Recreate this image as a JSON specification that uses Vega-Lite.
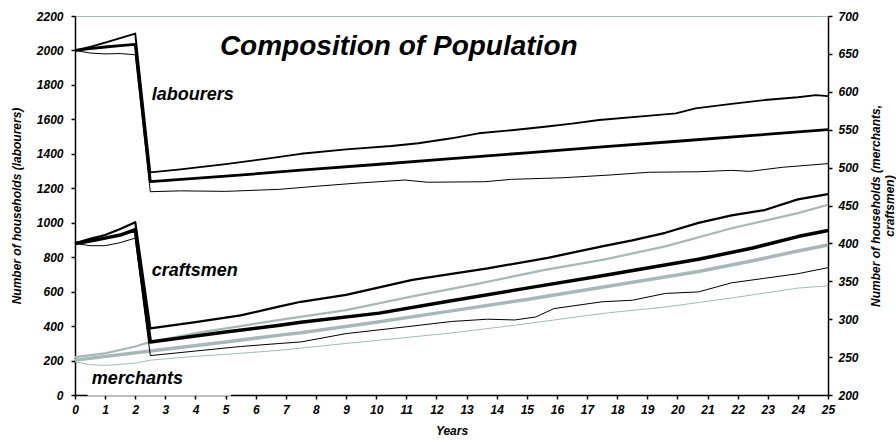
{
  "$schema": "https://vega.github.io/schema/vega-lite/v6.json",
  "width": 753,
  "height": 379,
  "autosize": {"type": "none"},
  "padding": {"left": 75, "top": 16, "right": 68, "bottom": 47},
  "background": "white",
  "config": {
    "view": {"stroke": "#a9b9b9", "strokeWidth": 1},
    "font": "Liberation Sans",
    "axis": {
      "labelFont": "Liberation Sans", "labelFontSize": 12, "labelFontWeight": "bold", "labelFontStyle": "italic", "labelColor": "black",
      "titleFont": "Liberation Sans", "titleFontSize": 12, "titleFontWeight": "bold", "titleFontStyle": "italic", "titleColor": "black",
      "domainColor": "black", "domainWidth": 1.5, "tickColor": "black", "tickWidth": 1.5, "tickSize": 4, "grid": false,
      "labelOverlap": false, "labelFlush": false, "format": "d"
    }
  },
  "datasets": {
    "lab": [
      {"s": "mean", "t": 0, "v": 2000}, {"s": "mean", "t": 0.5, "v": 2010}, {"s": "mean", "t": 1, "v": 2020}, {"s": "mean", "t": 1.5, "v": 2028}, {"s": "mean", "t": 2, "v": 2035},
      {"s": "mean", "t": 2.5, "v": 1238}, {"s": "mean", "t": 5, "v": 1270}, {"s": "mean", "t": 7.5, "v": 1305}, {"s": "mean", "t": 10, "v": 1338}, {"s": "mean", "t": 12.5, "v": 1372},
      {"s": "mean", "t": 15, "v": 1406}, {"s": "mean", "t": 17.5, "v": 1440}, {"s": "mean", "t": 20, "v": 1473}, {"s": "mean", "t": 22.5, "v": 1507}, {"s": "mean", "t": 25, "v": 1540},
      {"s": "upper", "t": 0, "v": 2000}, {"s": "upper", "t": 0.5, "v": 2020}, {"s": "upper", "t": 1, "v": 2045}, {"s": "upper", "t": 1.5, "v": 2072}, {"s": "upper", "t": 2, "v": 2098},
      {"s": "upper", "t": 2.5, "v": 1292}, {"s": "upper", "t": 3.5, "v": 1310}, {"s": "upper", "t": 5, "v": 1340}, {"s": "upper", "t": 6.5, "v": 1375}, {"s": "upper", "t": 7.5, "v": 1400},
      {"s": "upper", "t": 9, "v": 1426}, {"s": "upper", "t": 10.5, "v": 1445}, {"s": "upper", "t": 11.4, "v": 1461}, {"s": "upper", "t": 12.5, "v": 1490}, {"s": "upper", "t": 13.4, "v": 1519},
      {"s": "upper", "t": 14.5, "v": 1537}, {"s": "upper", "t": 15.6, "v": 1557}, {"s": "upper", "t": 16.5, "v": 1575}, {"s": "upper", "t": 17.4, "v": 1596}, {"s": "upper", "t": 19, "v": 1620},
      {"s": "upper", "t": 19.95, "v": 1635}, {"s": "upper", "t": 20.6, "v": 1664}, {"s": "upper", "t": 21.8, "v": 1690}, {"s": "upper", "t": 22.9, "v": 1712}, {"s": "upper", "t": 24, "v": 1728},
      {"s": "upper", "t": 24.6, "v": 1741}, {"s": "upper", "t": 25, "v": 1735},
      {"s": "lower", "t": 0, "v": 2000}, {"s": "lower", "t": 0.5, "v": 1985}, {"s": "lower", "t": 1, "v": 1980}, {"s": "lower", "t": 1.5, "v": 1982}, {"s": "lower", "t": 2, "v": 1975},
      {"s": "lower", "t": 2.5, "v": 1180}, {"s": "lower", "t": 3.5, "v": 1185}, {"s": "lower", "t": 5, "v": 1182}, {"s": "lower", "t": 6.8, "v": 1194}, {"s": "lower", "t": 8.1, "v": 1213},
      {"s": "lower", "t": 9.3, "v": 1229}, {"s": "lower", "t": 10.95, "v": 1248}, {"s": "lower", "t": 11.7, "v": 1235}, {"s": "lower", "t": 13.6, "v": 1238}, {"s": "lower", "t": 14.5, "v": 1252},
      {"s": "lower", "t": 16.2, "v": 1261}, {"s": "lower", "t": 17.76, "v": 1277}, {"s": "lower", "t": 19.05, "v": 1293}, {"s": "lower", "t": 20.7, "v": 1296}, {"s": "lower", "t": 21.8, "v": 1304},
      {"s": "lower", "t": 22.4, "v": 1298}, {"s": "lower", "t": 23.5, "v": 1322}, {"s": "lower", "t": 25, "v": 1343}
    ],
    "rm": [
      {"g": "craftsmen", "s": "mean", "t": 0, "v": 400}, {"g": "craftsmen", "s": "mean", "t": 0.5, "v": 403}, {"g": "craftsmen", "s": "mean", "t": 1, "v": 407}, {"g": "craftsmen", "s": "mean", "t": 1.5, "v": 411}, {"g": "craftsmen", "s": "mean", "t": 2, "v": 418},
      {"g": "craftsmen", "s": "mean", "t": 2.5, "v": 270}, {"g": "craftsmen", "s": "mean", "t": 5, "v": 283}, {"g": "craftsmen", "s": "mean", "t": 6.8, "v": 292}, {"g": "craftsmen", "s": "mean", "t": 7.5, "v": 296}, {"g": "craftsmen", "s": "mean", "t": 10.1, "v": 308},
      {"g": "craftsmen", "s": "mean", "t": 12.3, "v": 323}, {"g": "craftsmen", "s": "mean", "t": 15, "v": 341}, {"g": "craftsmen", "s": "mean", "t": 17.6, "v": 358}, {"g": "craftsmen", "s": "mean", "t": 20.7, "v": 379}, {"g": "craftsmen", "s": "mean", "t": 22.5, "v": 394},
      {"g": "craftsmen", "s": "mean", "t": 24, "v": 409}, {"g": "craftsmen", "s": "mean", "t": 25, "v": 417},
      {"g": "craftsmen", "s": "upper", "t": 0, "v": 400}, {"g": "craftsmen", "s": "upper", "t": 0.5, "v": 406}, {"g": "craftsmen", "s": "upper", "t": 1, "v": 411}, {"g": "craftsmen", "s": "upper", "t": 1.5, "v": 419}, {"g": "craftsmen", "s": "upper", "t": 2, "v": 428},
      {"g": "craftsmen", "s": "upper", "t": 2.5, "v": 288}, {"g": "craftsmen", "s": "upper", "t": 4, "v": 296}, {"g": "craftsmen", "s": "upper", "t": 5.5, "v": 305}, {"g": "craftsmen", "s": "upper", "t": 6.8, "v": 317}, {"g": "craftsmen", "s": "upper", "t": 7.5, "v": 323},
      {"g": "craftsmen", "s": "upper", "t": 9, "v": 332}, {"g": "craftsmen", "s": "upper", "t": 11.2, "v": 352}, {"g": "craftsmen", "s": "upper", "t": 13.7, "v": 367}, {"g": "craftsmen", "s": "upper", "t": 15.7, "v": 381}, {"g": "craftsmen", "s": "upper", "t": 17.5, "v": 396},
      {"g": "craftsmen", "s": "upper", "t": 18.5, "v": 404}, {"g": "craftsmen", "s": "upper", "t": 19.6, "v": 414}, {"g": "craftsmen", "s": "upper", "t": 20.7, "v": 427}, {"g": "craftsmen", "s": "upper", "t": 21.8, "v": 437}, {"g": "craftsmen", "s": "upper", "t": 22.9, "v": 444},
      {"g": "craftsmen", "s": "upper", "t": 24, "v": 458}, {"g": "craftsmen", "s": "upper", "t": 25, "v": 465},
      {"g": "craftsmen", "s": "lower", "t": 0, "v": 400}, {"g": "craftsmen", "s": "lower", "t": 0.5, "v": 397}, {"g": "craftsmen", "s": "lower", "t": 1, "v": 397}, {"g": "craftsmen", "s": "lower", "t": 1.5, "v": 401}, {"g": "craftsmen", "s": "lower", "t": 2, "v": 407},
      {"g": "craftsmen", "s": "lower", "t": 2.5, "v": 252}, {"g": "craftsmen", "s": "lower", "t": 4, "v": 258}, {"g": "craftsmen", "s": "lower", "t": 5.5, "v": 264}, {"g": "craftsmen", "s": "lower", "t": 6.8, "v": 268}, {"g": "craftsmen", "s": "lower", "t": 7.5, "v": 270},
      {"g": "craftsmen", "s": "lower", "t": 9, "v": 281}, {"g": "craftsmen", "s": "lower", "t": 11, "v": 290}, {"g": "craftsmen", "s": "lower", "t": 12.5, "v": 297}, {"g": "craftsmen", "s": "lower", "t": 13.7, "v": 300}, {"g": "craftsmen", "s": "lower", "t": 14.6, "v": 299},
      {"g": "craftsmen", "s": "lower", "t": 15.3, "v": 303}, {"g": "craftsmen", "s": "lower", "t": 15.9, "v": 314}, {"g": "craftsmen", "s": "lower", "t": 17.5, "v": 323}, {"g": "craftsmen", "s": "lower", "t": 18.5, "v": 325}, {"g": "craftsmen", "s": "lower", "t": 19.6, "v": 334},
      {"g": "craftsmen", "s": "lower", "t": 20.7, "v": 336}, {"g": "craftsmen", "s": "lower", "t": 21.8, "v": 348}, {"g": "craftsmen", "s": "lower", "t": 22.9, "v": 354}, {"g": "craftsmen", "s": "lower", "t": 24, "v": 360}, {"g": "craftsmen", "s": "lower", "t": 25, "v": 368},
      {"g": "merchants", "s": "mean", "t": 0, "v": 246}, {"g": "merchants", "s": "mean", "t": 2.5, "v": 258}, {"g": "merchants", "s": "mean", "t": 5, "v": 270}, {"g": "merchants", "s": "mean", "t": 6.8, "v": 279}, {"g": "merchants", "s": "mean", "t": 7.5, "v": 282},
      {"g": "merchants", "s": "mean", "t": 10, "v": 296}, {"g": "merchants", "s": "mean", "t": 12.5, "v": 311}, {"g": "merchants", "s": "mean", "t": 15, "v": 326}, {"g": "merchants", "s": "mean", "t": 17.8, "v": 344}, {"g": "merchants", "s": "mean", "t": 20.7, "v": 363},
      {"g": "merchants", "s": "mean", "t": 22.5, "v": 377}, {"g": "merchants", "s": "mean", "t": 24, "v": 390}, {"g": "merchants", "s": "mean", "t": 25, "v": 398},
      {"g": "merchants", "s": "upper", "t": 0, "v": 250}, {"g": "merchants", "s": "upper", "t": 1, "v": 255}, {"g": "merchants", "s": "upper", "t": 2, "v": 264}, {"g": "merchants", "s": "upper", "t": 2.5, "v": 270}, {"g": "merchants", "s": "upper", "t": 4.2, "v": 283},
      {"g": "merchants", "s": "upper", "t": 5.5, "v": 291}, {"g": "merchants", "s": "upper", "t": 6.8, "v": 299}, {"g": "merchants", "s": "upper", "t": 9, "v": 312}, {"g": "merchants", "s": "upper", "t": 11.2, "v": 330}, {"g": "merchants", "s": "upper", "t": 13.4, "v": 347},
      {"g": "merchants", "s": "upper", "t": 15.6, "v": 365}, {"g": "merchants", "s": "upper", "t": 17.6, "v": 379}, {"g": "merchants", "s": "upper", "t": 19.6, "v": 396}, {"g": "merchants", "s": "upper", "t": 21.8, "v": 420}, {"g": "merchants", "s": "upper", "t": 24, "v": 440},
      {"g": "merchants", "s": "upper", "t": 25, "v": 451},
      {"g": "merchants", "s": "lower", "t": 0, "v": 244}, {"g": "merchants", "s": "lower", "t": 0.5, "v": 240}, {"g": "merchants", "s": "lower", "t": 1, "v": 239}, {"g": "merchants", "s": "lower", "t": 2, "v": 242}, {"g": "merchants", "s": "lower", "t": 2.5, "v": 246},
      {"g": "merchants", "s": "lower", "t": 4, "v": 251}, {"g": "merchants", "s": "lower", "t": 5.5, "v": 255}, {"g": "merchants", "s": "lower", "t": 6.8, "v": 259}, {"g": "merchants", "s": "lower", "t": 9, "v": 268}, {"g": "merchants", "s": "lower", "t": 12.3, "v": 281},
      {"g": "merchants", "s": "lower", "t": 14.6, "v": 292}, {"g": "merchants", "s": "lower", "t": 17.6, "v": 308}, {"g": "merchants", "s": "lower", "t": 19.6, "v": 316}, {"g": "merchants", "s": "lower", "t": 21.8, "v": 328}, {"g": "merchants", "s": "lower", "t": 24, "v": 341},
      {"g": "merchants", "s": "lower", "t": 25, "v": 344}
    ]
  },
  "layer": [
    {
      "layer": [
        {
          "data": {"name": "lab"},
          "mark": {"type": "line", "color": "black", "strokeJoin": "round"},
          "encoding": {
            "x": {"field": "t", "type": "quantitative", "scale": {"domain": [0, 25], "nice": false},
                  "axis": {"values": [0,1,2,3,4,5,6,7,8,9,10,11,12,13,14,15,16,17,18,19,20,21,22,23,24,25], "tickCount": 26, "title": "Years", "labelPadding": 5, "titlePadding": 10}},
            "y": {"field": "v", "type": "quantitative", "scale": {"domain": [0, 2200], "nice": false},
                  "axis": {"values": [0,200,400,600,800,1000,1200,1400,1600,1800,2000,2200], "tickCount": 12, "title": "Number of households (labourers)", "labelPadding": 8, "titlePadding": 13}},
            "detail": {"field": "s"},
            "strokeWidth": {"field": "s", "type": "ordinal", "scale": {"domain": ["mean", "upper", "lower"], "range": [2.8, 1, 1]}, "legend": null}
          }
        },
        {
          "data": {"values": [{}]},
          "mark": {"type": "rect", "color": "white"},
          "encoding": {
            "x": {"datum": 0.42, "type": "quantitative", "axis": {"values": [0,1,2,3,4,5,6,7,8,9,10,11,12,13,14,15,16,17,18,19,20,21,22,23,24,25], "tickCount": 26, "title": "Years", "labelPadding": 5, "titlePadding": 10}},
            "x2": {"datum": 5.18},
            "y": {"datum": -5, "type": "quantitative", "axis": {"values": [0,200,400,600,800,1000,1200,1400,1600,1800,2000,2200], "tickCount": 12, "title": "Number of households (labourers)", "labelPadding": 8, "titlePadding": 13}},
            "y2": {"datum": 125}
          }
        },
        {
          "data": {"values": [{}]},
          "mark": {"type": "text", "text": "Composition of Population", "align": "left", "baseline": "middle", "fontSize": 28, "fontWeight": "bold", "fontStyle": "italic", "font": "Liberation Sans", "color": "black"},
          "encoding": {
            "x": {"datum": 4.81, "type": "quantitative", "axis": {"values": [0,1,2,3,4,5,6,7,8,9,10,11,12,13,14,15,16,17,18,19,20,21,22,23,24,25], "tickCount": 26, "title": "Years", "labelPadding": 5, "titlePadding": 10}},
            "y": {"datum": 2020, "type": "quantitative", "axis": {"values": [0,200,400,600,800,1000,1200,1400,1600,1800,2000,2200], "tickCount": 12, "title": "Number of households (labourers)", "labelPadding": 8, "titlePadding": 13}}
          }
        },
        {
          "data": {"values": [{}]},
          "mark": {"type": "text", "text": "labourers", "align": "left", "baseline": "middle", "fontSize": 18, "fontWeight": "bold", "fontStyle": "italic", "font": "Liberation Sans", "color": "black"},
          "encoding": {
            "x": {"datum": 2.55, "type": "quantitative", "axis": {"values": [0,1,2,3,4,5,6,7,8,9,10,11,12,13,14,15,16,17,18,19,20,21,22,23,24,25], "tickCount": 26, "title": "Years", "labelPadding": 5, "titlePadding": 10}},
            "y": {"datum": 1741, "type": "quantitative", "axis": {"values": [0,200,400,600,800,1000,1200,1400,1600,1800,2000,2200], "tickCount": 12, "title": "Number of households (labourers)", "labelPadding": 8, "titlePadding": 13}}
          }
        },
        {
          "data": {"values": [{}]},
          "mark": {"type": "text", "text": "craftsmen", "align": "left", "baseline": "middle", "fontSize": 18, "fontWeight": "bold", "fontStyle": "italic", "font": "Liberation Sans", "color": "black"},
          "encoding": {
            "x": {"datum": 2.55, "type": "quantitative", "axis": {"values": [0,1,2,3,4,5,6,7,8,9,10,11,12,13,14,15,16,17,18,19,20,21,22,23,24,25], "tickCount": 26, "title": "Years", "labelPadding": 5, "titlePadding": 10}},
            "y": {"datum": 720, "type": "quantitative", "axis": {"values": [0,200,400,600,800,1000,1200,1400,1600,1800,2000,2200], "tickCount": 12, "title": "Number of households (labourers)", "labelPadding": 8, "titlePadding": 13}}
          }
        },
        {
          "data": {"values": [{}]},
          "mark": {"type": "text", "text": "merchants", "align": "left", "baseline": "middle", "fontSize": 18, "fontWeight": "bold", "fontStyle": "italic", "font": "Liberation Sans", "color": "black"},
          "encoding": {
            "x": {"datum": 0.56, "type": "quantitative", "axis": {"values": [0,1,2,3,4,5,6,7,8,9,10,11,12,13,14,15,16,17,18,19,20,21,22,23,24,25], "tickCount": 26, "title": "Years", "labelPadding": 5, "titlePadding": 10}},
            "y": {"datum": 91, "type": "quantitative", "axis": {"values": [0,200,400,600,800,1000,1200,1400,1600,1800,2000,2200], "tickCount": 12, "title": "Number of households (labourers)", "labelPadding": 8, "titlePadding": 13}}
          }
        }
      ]
    },
    {
      "data": {"name": "rm"},
      "layer": [
        {
          "transform": [{"filter": "datum.g === 'merchants'"}],
          "mark": {"type": "line", "color": "#a8b8b8", "strokeJoin": "round"},
          "encoding": {
            "x": {"field": "t", "type": "quantitative", "axis": {"values": [0,1,2,3,4,5,6,7,8,9,10,11,12,13,14,15,16,17,18,19,20,21,22,23,24,25], "tickCount": 26, "title": "Years", "labelPadding": 5, "titlePadding": 10}},
            "y": {"field": "v", "type": "quantitative", "scale": {"domain": [200, 700], "nice": false},
                  "axis": {"orient": "right", "values": [200,250,300,350,400,450,500,550,600,650,700], "tickCount": 11, "title": ["Number of households (merchants,", "craftsmen)"], "titleAngle": 270, "labelPadding": 6, "titlePadding": 10}},
            "detail": {"field": "s"},
            "strokeWidth": {"field": "s", "type": "ordinal", "scale": {"domain": ["mean", "upper", "lower"], "range": [3.5, 1, 1]}, "legend": null}
          }
        },
        {
          "transform": [{"filter": "datum.g === 'craftsmen'"}],
          "mark": {"type": "line", "color": "black", "strokeJoin": "round"},
          "encoding": {
            "x": {"field": "t", "type": "quantitative", "axis": {"values": [0,1,2,3,4,5,6,7,8,9,10,11,12,13,14,15,16,17,18,19,20,21,22,23,24,25], "tickCount": 26, "title": "Years", "labelPadding": 5, "titlePadding": 10}},
            "y": {"field": "v", "type": "quantitative", "scale": {"domain": [200, 700], "nice": false},
                  "axis": {"orient": "right", "values": [200,250,300,350,400,450,500,550,600,650,700], "tickCount": 11, "title": ["Number of households (merchants,", "craftsmen)"], "titleAngle": 270, "labelPadding": 6, "titlePadding": 10}},
            "detail": {"field": "s"},
            "strokeWidth": {"field": "s", "type": "ordinal", "scale": {"domain": ["mean", "upper", "lower"], "range": [2.8, 1, 1]}, "legend": null}
          }
        }
      ]
    }
  ],
  "resolve": {"scale": {"y": "independent", "strokeWidth": "independent"}}
}
